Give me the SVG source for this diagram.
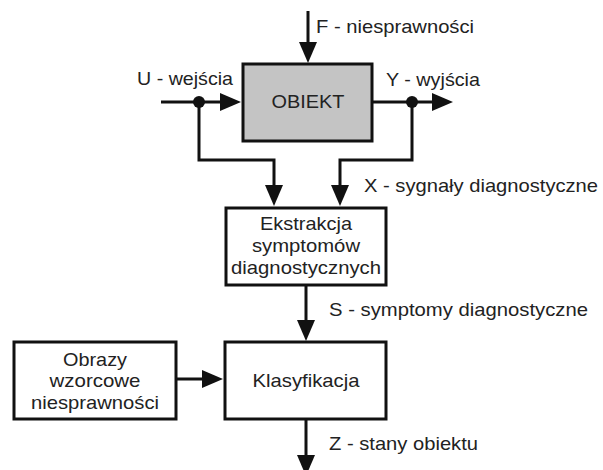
<svg xmlns="http://www.w3.org/2000/svg" width="603" height="470" viewBox="0 0 603 470">
  <style>
    .box { fill: #ffffff; stroke: #111111; stroke-width: 3; }
    .gray { fill: #c4c4c4; }
    .line { fill: none; stroke: #111111; stroke-width: 3; marker-end: url(#arr); }
    .plain { fill: none; stroke: #111111; stroke-width: 3; }
    .dot { fill: #111111; }
    text { font-family: "Liberation Sans", Arial, sans-serif; font-size: 19px; fill: #222222; }
    .c { text-anchor: middle; }
  </style>
  <defs>
    <marker id="arr" markerUnits="userSpaceOnUse" markerWidth="22" markerHeight="19" refX="11" refY="9" orient="auto" viewBox="0 0 22 18">
      <path d="M0,0 L21,9 L0,18 z" fill="#111111"/>
    </marker>
  </defs>
  <rect width="603" height="470" fill="#ffffff"/>

  <g id="connectors">
    <path class="line" d="M308,11 V53"/>
    <path class="line" d="M161,102 H231"/>
    <path class="line" d="M373,102 H443"/>
    <path class="line" d="M199,102 V160 H274 V196"/>
    <path class="line" d="M412,102 V160 H340 V196"/>
    <path class="line" d="M306,286 V331"/>
    <path class="line" d="M176,379 H213"/>
    <path class="line" d="M306,419 V466"/>
    <circle class="dot" cx="199" cy="102" r="6"/>
    <circle class="dot" cx="412" cy="102" r="6"/>
    <text x="316" y="33" textLength="158" lengthAdjust="spacingAndGlyphs">F - niesprawności</text>
    <text x="137" y="85" textLength="96" lengthAdjust="spacingAndGlyphs">U - wejścia</text>
    <text x="386" y="86" textLength="94" lengthAdjust="spacingAndGlyphs">Y - wyjścia</text>
    <text x="364" y="192" textLength="234" lengthAdjust="spacingAndGlyphs">X - sygnały diagnostyczne</text>
    <text x="329" y="316" textLength="259" lengthAdjust="spacingAndGlyphs">S - symptomy diagnostyczne</text>
    <text x="329" y="450" textLength="149" lengthAdjust="spacingAndGlyphs">Z - stany obiektu</text>
  </g>

  <g id="obiekt">
    <rect class="box gray" x="243" y="64" width="129" height="77"/>
    <text class="c" x="308" y="108" textLength="73" lengthAdjust="spacingAndGlyphs">OBIEKT</text>
  </g>

  <g id="ekstrakcja">
    <rect class="box" x="226" y="208" width="160" height="77"/>
    <text class="c" x="306" y="230" textLength="92" lengthAdjust="spacingAndGlyphs">Ekstrakcja</text>
    <text class="c" x="306" y="252" textLength="108" lengthAdjust="spacingAndGlyphs">symptomów</text>
    <text class="c" x="306" y="274" textLength="150" lengthAdjust="spacingAndGlyphs">diagnostycznych</text>
  </g>

  <g id="klasyfikacja">
    <rect class="box" x="225" y="342" width="161" height="77"/>
    <text class="c" x="306" y="387" textLength="107" lengthAdjust="spacingAndGlyphs">Klasyfikacja</text>
  </g>

  <g id="obrazy">
    <rect class="box" x="14" y="342" width="162" height="77"/>
    <text class="c" x="95" y="366" textLength="64" lengthAdjust="spacingAndGlyphs">Obrazy</text>
    <text class="c" x="95" y="387" textLength="91" lengthAdjust="spacingAndGlyphs">wzorcowe</text>
    <text class="c" x="95" y="409" textLength="128" lengthAdjust="spacingAndGlyphs">niesprawności</text>
  </g>
</svg>
